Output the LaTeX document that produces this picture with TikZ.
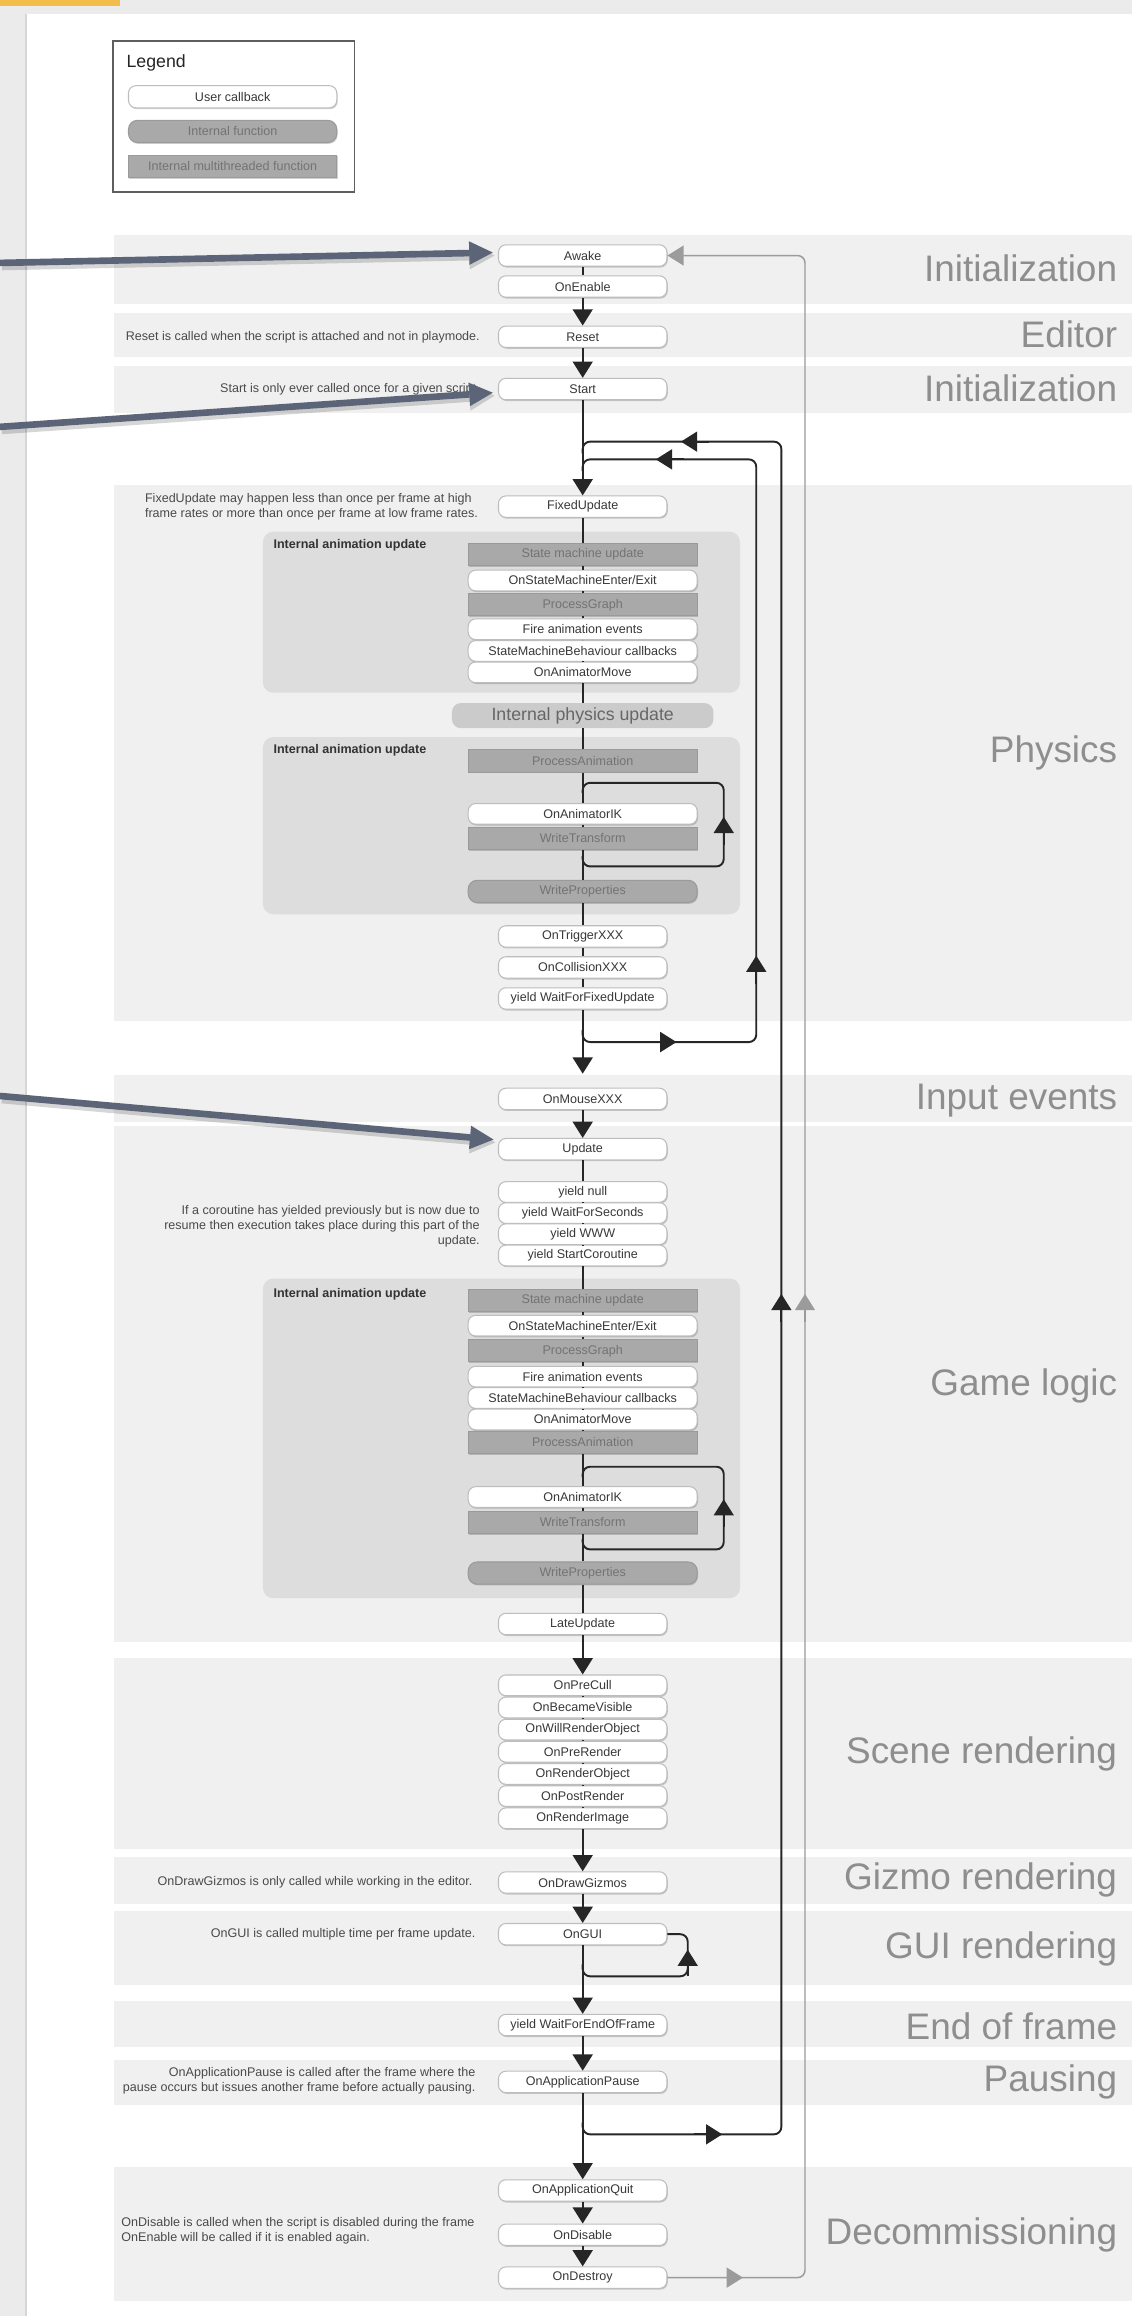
\documentclass[tikz,border=0pt]{standalone}
\usepackage{fontspec}
\setmainfont{Liberation Sans}
\usetikzlibrary{arrows.meta,shadows,calc}

% palette
\definecolor{framegray}{HTML}{EBEBEB}
\definecolor{tabgold}{HTML}{F2BD4B}
\definecolor{edgegray}{HTML}{D6D6D6}
\definecolor{bandgray}{HTML}{F0F0F0}
\definecolor{groupgray}{HTML}{DDDDDD}
\definecolor{physgray}{HTML}{CBCBCB}
\definecolor{phystext}{HTML}{666666}
\definecolor{fngray}{HTML}{A9A9A9}
\definecolor{fnedge}{HTML}{9A9A9A}
\definecolor{fntext}{HTML}{737373}
\definecolor{cbedge}{HTML}{BDBDBD}
\definecolor{cbtext}{HTML}{383838}
\definecolor{notetext}{HTML}{4A4A4A}
\definecolor{stagetext}{HTML}{8E8E8E}
\definecolor{flowline}{HTML}{262626}
\definecolor{returnline}{HTML}{9B9B9B}
\definecolor{pointer}{HTML}{5B6577}
\definecolor{legendedge}{HTML}{5E5E5E}

\tikzset{
  boxfont/.style={font=\fontsize{8.5}{10}\selectfont},
  notefont/.style={font=\fontsize{8.5}{10.2}\selectfont},
  callback/.style={draw=cbedge, line width=0.7pt, fill=white, rounded corners=5pt,
    minimum width=114pt, minimum height=14.5pt, inner sep=0pt, boxfont, text=cbtext,
    drop shadow={shadow xshift=0.6pt, shadow yshift=-0.9pt, opacity=0.18, fill=black}},
  wide/.style={minimum width=155pt, minimum height=14pt},
  internal/.style={callback, fill=fngray, draw=fnedge, text=fntext, rounded corners=6pt},
  threaded/.style={internal, sharp corners, minimum height=15pt},
  group/.style={fill=groupgray, rounded corners=7pt, inner sep=0pt},
  grouptitle/.style={anchor=west, inner sep=0pt, text=black!80,
    font=\bfseries\fontsize{8.5}{10}\selectfont},
  physics/.style={fill=physgray, rounded corners=6pt, minimum width=177pt,
    minimum height=17pt, inner sep=0pt, text=phystext, font=\fontsize{12}{14}\selectfont},
  stage/.style={anchor=base east, inner sep=0pt, text=stagetext,
    font=\fontsize{25}{29}\selectfont},
  note/.style={inner sep=0pt, text=notetext, notefont},
  flow/.style={draw=flowline, line width=1.3pt},
  flowarrow/.style={flow, -{Triangle[width=13.5pt,length=11pt]}},
  returnpath/.style={draw=returnline, line width=1pt},
  returnarrow/.style={returnpath, -{Triangle[width=13.5pt,length=11pt]}},
  pointerarrow/.style={draw=pointer, line width=4.5pt,
    -{Triangle[width=16pt,length=16pt,line width=0pt]}},
  pointershade/.style={draw=black, opacity=0.16, line width=6pt,
    -{Triangle[width=18pt,length=17pt,line width=0pt]},
    transform canvas={shift={(1.2pt,-2pt)}}},
}

\begin{document}
\begin{tikzpicture}[x=1pt, y=-1pt]
\useasboundingbox (0,0) rectangle (766.4,1568);

% page frame
\fill[framegray] (0,0) rectangle (766.4,1568);
\fill[tabgold] (0,0) rectangle (81.5,4);
\fill[white] (18,9.5) rectangle (766.4,1568);
\draw[edgegray, line width=1pt] (17.5,9.5) -- (17.5,1568);

% stage bands
\foreach \top/\bot in {159/206, 212/242, 248/279.5, 328.5/691.5, 728/759.5,
    762/1112, 1122.5/1252, 1257/1289, 1294/1344, 1355/1386, 1395/1425, 1467/1558}
  \fill[bandgray] (77,\top) rectangle (766.4,\bot);

% legend
\node[draw=legendedge, line width=1.3pt, fill=white, minimum width=163.5pt,
  minimum height=102pt, inner sep=0pt] (legend) at (158.25,79) {};
\node[anchor=west, inner sep=0pt, font=\fontsize{12}{14}\selectfont, text=black!85]
  (legendtitle) at (85.5,42.5) {Legend};
\node[callback, minimum width=141pt, minimum height=15pt] (lgcallback) at (157.5,65.5) {User callback};
\node[internal, minimum width=141pt, minimum height=15pt] (lginternal) at (157.5,89) {Internal function};
\node[threaded, minimum width=141pt, minimum height=15pt] (lgthreaded) at (157.5,112.5) {Internal multithreaded function};

% animation update groups
\node[group, minimum width=323pt, minimum height=109pt] (grpA) at (339.5,414.5) {};
\node[group, minimum width=323pt, minimum height=120pt] (grpB) at (339.5,559) {};
\node[group, minimum width=323pt, minimum height=216.4pt] (grpC) at (339.5,973.8) {};
\node[grouptitle] (grpAtitle) at (185,369) {Internal animation update};
\node[grouptitle] (grpBtitle) at (185,508) {Internal animation update};
\node[grouptitle] (grpCtitle) at (185,876) {Internal animation update};

% initialization, editor
\node[callback] (awake) at (394.5,173) {Awake};
\node[callback] (onenable) at (394.5,194) {OnEnable};
\node[callback] (reset) at (394.5,228) {Reset};
\node[callback] (start) at (394.5,263.4) {Start};

% physics
\node[callback] (fixedupdate) at (394.5,343) {FixedUpdate};
\node[threaded, wide, minimum height=15pt] (smuA) at (394.5,375.5) {State machine update};
\node[callback, wide] (osmeA) at (394.5,393) {OnStateMachineEnter/Exit};
\node[threaded, wide, minimum height=15pt] (pgA) at (394.5,409.5) {ProcessGraph};
\node[callback, wide] (faeA) at (394.5,426) {Fire animation events};
\node[callback, wide] (smbA) at (394.5,440.7) {StateMachineBehaviour callbacks};
\node[callback, wide] (oamA) at (394.5,455.2) {OnAnimatorMove};
\node[physics] (physupdate) at (394.5,484.5) {Internal physics update};
\node[threaded, wide, minimum height=15.5pt] (paA) at (394.5,515) {ProcessAnimation};
\node[callback, wide] (oaikA) at (394.5,551) {OnAnimatorIK};
\node[threaded, wide, minimum height=15pt] (wtA) at (394.5,567.5) {WriteTransform};
\node[internal, wide, minimum height=15pt] (wpA) at (394.5,603.5) {WriteProperties};
\node[callback] (ontrigger) at (394.5,634) {OnTriggerXXX};
\node[callback] (oncollision) at (394.5,655) {OnCollisionXXX};
\node[callback] (yieldfixed) at (394.5,676) {yield WaitForFixedUpdate};

% input events, game logic
\node[callback] (onmouse) at (394.5,744) {OnMouseXXX};
\node[callback] (update) at (394.5,778) {Update};
\node[callback, minimum height=14pt] (ynull) at (394.5,807) {yield null};
\node[callback, minimum height=14pt] (yseconds) at (394.5,821.3) {yield WaitForSeconds};
\node[callback, minimum height=14pt] (ywww) at (394.5,835.6) {yield WWW};
\node[callback, minimum height=14pt] (ycoroutine) at (394.5,850) {yield StartCoroutine};
\node[threaded, wide, minimum height=15pt] (smuB) at (394.5,880.5) {State machine update};
\node[callback, wide] (osmeB) at (394.5,897.5) {OnStateMachineEnter/Exit};
\node[threaded, wide, minimum height=15pt] (pgB) at (394.5,914.5) {ProcessGraph};
\node[callback, wide] (faeB) at (394.5,932) {Fire animation events};
\node[callback, wide] (smbB) at (394.5,946.5) {StateMachineBehaviour callbacks};
\node[callback, wide] (oamB) at (394.5,961) {OnAnimatorMove};
\node[threaded, wide, minimum height=15pt] (paB) at (394.5,976.5) {ProcessAnimation};
\node[callback, wide] (oaikB) at (394.5,1013.5) {OnAnimatorIK};
\node[threaded, wide, minimum height=15pt] (wtB) at (394.5,1030.5) {WriteTransform};
\node[internal, wide, minimum height=15pt] (wpB) at (394.5,1065) {WriteProperties};
\node[callback] (lateupdate) at (394.5,1099.5) {LateUpdate};

% rendering
\node[callback, minimum height=14pt] (onprecull) at (394.5,1141) {OnPreCull};
\node[callback, minimum height=14pt] (onbecamevisible) at (394.5,1156) {OnBecameVisible};
\node[callback, minimum height=14pt] (onwillrender) at (394.5,1171) {OnWillRenderObject};
\node[callback, minimum height=14pt] (onprerender) at (394.5,1186) {OnPreRender};
\node[callback, minimum height=14pt] (onrenderobject) at (394.5,1201) {OnRenderObject};
\node[callback, minimum height=14pt] (onpostrender) at (394.5,1216) {OnPostRender};
\node[callback, minimum height=14pt] (onrenderimage) at (394.5,1231) {OnRenderImage};
\node[callback] (ondrawgizmos) at (394.5,1274.5) {OnDrawGizmos};
\node[callback] (ongui) at (394.5,1309.5) {OnGUI};

% end of frame, pausing, decommissioning
\node[callback] (endofframe) at (394.5,1371) {yield WaitForEndOfFrame};
\node[callback] (onpause) at (394.5,1409.5) {OnApplicationPause};
\node[callback] (onquit) at (394.5,1483) {OnApplicationQuit};
\node[callback] (ondisable) at (394.5,1513) {OnDisable};
\node[callback] (ondestroy) at (394.5,1542) {OnDestroy};

% straight connectors
\foreach \a/\b in {awake/onenable, fixedupdate/smuA, smuA/osmeA, osmeA/pgA, pgA/faeA,
    faeA/smbA, smbA/oamA, oamA/physupdate, physupdate/paA, paA/oaikA, oaikA/wtA,
    wtA/wpA, wpA/ontrigger, ontrigger/oncollision, oncollision/yieldfixed,
    update/ynull, ynull/yseconds, yseconds/ywww, ywww/ycoroutine, ycoroutine/smuB,
    smuB/osmeB, osmeB/pgB, pgB/faeB, faeB/smbB, smbB/oamB, oamB/paB, paB/oaikB,
    oaikB/wtB, wtB/wpB, wpB/lateupdate, onprecull/onbecamevisible,
    onbecamevisible/onwillrender, onwillrender/onprerender, onprerender/onrenderobject,
    onrenderobject/onpostrender, onpostrender/onrenderimage}
  \draw[flow] (\a) -- (\b);

\foreach \a/\b in {onenable/reset, reset/start, start/fixedupdate, onmouse/update,
    lateupdate/onprecull, onrenderimage/ondrawgizmos, ondrawgizmos/ongui,
    ongui/endofframe, endofframe/onpause, onpause/onquit, onquit/ondisable,
    ondisable/ondestroy}
  \draw[flowarrow] (\a) -- (\b);
\draw[flowarrow, shorten >=9.5pt] (yieldfixed) -- (onmouse);

% frame loop
\coordinate (frameTop) at (394.5,299);
\coordinate (frameTR) at (529,299);
\coordinate (frameBR) at (529,1445);
\coordinate (frameBot) at (394.5,1445);
\draw[flow, rounded corners=5pt] ([yshift=-8pt]frameTop) -- (frameTop) -- (frameTR)
  -- (frameBR) -- (frameBot) -- ([yshift=8pt]frameBot);
\draw[flowarrow] (480,299) -- (461,299);
\draw[flowarrow] (529,895) -- (529,876);
\draw[flowarrow] (470,1445) -- (489,1445);

% fixed step loop
\coordinate (fixedTop) at (394.5,311);
\coordinate (fixedTR) at (512,311);
\coordinate (fixedBR) at (512,705.5);
\coordinate (fixedBot) at (394.5,705.5);
\draw[flow, rounded corners=5pt] ([yshift=-8pt]fixedTop) -- (fixedTop) -- (fixedTR)
  -- (fixedBR) -- (fixedBot) -- ([yshift=8pt]fixedBot);
\draw[flowarrow] (463,311) -- (444,311);
\draw[flowarrow] (512,666) -- (512,647);
\draw[flowarrow] (440,705.5) -- (458,705.5);

% IK loops
\coordinate (ikATop) at (394.5,530);
\coordinate (ikATR) at (490,530);
\coordinate (ikABR) at (490,586.6);
\coordinate (ikABot) at (394.5,586.6);
\draw[flow, rounded corners=5pt] ([yshift=-7pt]ikATop) -- (ikATop) -- (ikATR)
  -- (ikABR) -- (ikABot) -- ([yshift=7pt]ikABot);
\draw[flowarrow] (490,572) -- (490,553);

\coordinate (ikBTop) at (394.5,993);
\coordinate (ikBTR) at (490,993);
\coordinate (ikBBR) at (490,1049);
\coordinate (ikBBot) at (394.5,1049);
\draw[flow, rounded corners=5pt] ([yshift=-7pt]ikBTop) -- (ikBTop) -- (ikBTR)
  -- (ikBBR) -- (ikBBot) -- ([yshift=7pt]ikBBot);
\draw[flowarrow] (490,1034) -- (490,1015);

% GUI loop
\coordinate (guiTR) at (465.6,1309.5);
\coordinate (guiBR) at (465.6,1338);
\coordinate (guiBot) at (394.5,1338);
\draw[flow, rounded corners=5pt] (ongui.east) -- (guiTR) -- (guiBR) -- (guiBot)
  -- ([yshift=8pt]guiBot);
\draw[flowarrow] (465.6,1338) -- (465.6,1320);

% destroy back to awake
\coordinate (retBot) at (545,1542);
\coordinate (retTop) at (545,173);
\draw[returnarrow, rounded corners=5pt] (ondestroy.east) -- (retBot) -- (retTop) -- (awake.east);
\draw[returnarrow] (485,1542) -- (503,1542);
\draw[returnarrow] (545,895) -- (545,876);

% notes
\node[note, anchor=east] (resetnote) at (325,228) {Reset is called when the script is attached and not in playmode.};
\node[note, anchor=east] (startnote) at (325,263.4) {Start is only ever called once for a given script.};
\node[note, anchor=west, align=left] (fixednote) at (98,343)
  {FixedUpdate may happen less than once per frame at high\\frame rates or more than once per frame at low frame rates.};
\node[note, anchor=east, align=right] (coroutinenote) at (325,830)
  {If a coroutine has yielded previously but is now due to\\resume then execution takes place during this part of the\\update.};
\node[note, anchor=east] (gizmonote) at (320,1274.5) {OnDrawGizmos is only called while working in the editor.};
\node[note, anchor=east] (guinote) at (322,1309.5) {OnGUI is called multiple time per frame update.};
\node[note, anchor=east, align=right] (pausenote) at (322,1408.5)
  {OnApplicationPause is called after the frame where the\\pause occurs but issues another frame before actually pausing.};
\node[note, anchor=west, align=left] (disablenote) at (82,1510)
  {OnDisable is called when the script is disabled during the frame\\OnEnable will be called if it is enabled again.};

% stage names
\node[stage] (stInitA) at (756.5,190.6) {Initialization};
\node[stage] (stEditor) at (756.5,235.6) {Editor};
\node[stage] (stInitB) at (756.5,272) {Initialization};
\node[stage] (stPhysics) at (756.5,516) {Physics};
\node[stage] (stInput) at (756.5,751) {Input events};
\node[stage] (stGame) at (756.5,945) {Game logic};
\node[stage] (stScene) at (756.5,1194) {Scene rendering};
\node[stage] (stGizmo) at (756.5,1279.5) {Gizmo rendering};
\node[stage] (stGUI) at (756.5,1326) {GUI rendering};
\node[stage] (stEnd) at (756.5,1381) {End of frame};
\node[stage] (stPause) at (756.5,1416) {Pausing};
\node[stage] (stDecom) at (756.5,1519.5) {Decommissioning};

% pointers from the page margin
\coordinate (ptrAwake) at (0,178);
\coordinate (ptrStart) at (0,289);
\coordinate (ptrUpdate) at (0,742);
\draw[pointershade] (ptrAwake) -- ([xshift=-3.5pt,yshift=2pt]awake.west);
\draw[pointershade] (ptrStart) -- ([xshift=-3.5pt,yshift=-2.5pt]start.west);
\draw[pointershade] (ptrUpdate) -- ([xshift=-3pt,yshift=6.5pt]update.west);
\draw[pointerarrow] (ptrAwake) -- ([xshift=-3.5pt,yshift=2pt]awake.west);
\draw[pointerarrow] (ptrStart) -- ([xshift=-3.5pt,yshift=-2.5pt]start.west);
\draw[pointerarrow] (ptrUpdate) -- ([xshift=-3pt,yshift=6.5pt]update.west);
\end{tikzpicture}
\end{document}
